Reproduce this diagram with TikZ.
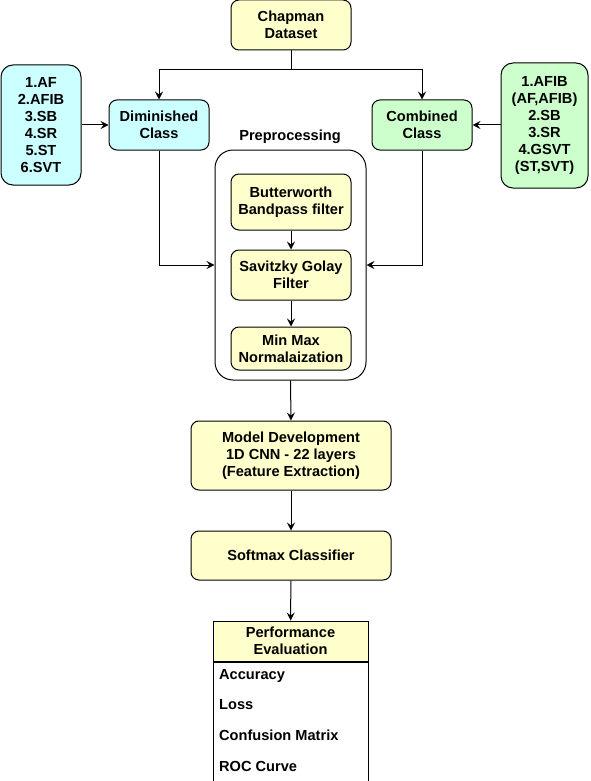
\documentclass[tikz,border=0pt]{standalone}
\usepackage{fontspec}
\setmainfont{Liberation Sans}
\usetikzlibrary{arrows.meta,positioning,calc}
\definecolor{yel}{HTML}{FFFFCC}
\definecolor{cya}{HTML}{CCFFFF}
\definecolor{grn}{HTML}{CCFFCC}
\begin{document}
\begin{tikzpicture}[x=1pt,y=-1pt,
  every node/.style={font=\fontsize{14.6}{17}\selectfont\bfseries, align=center, inner sep=0pt},
  box/.style={draw=black, line width=1pt, rounded corners=8pt, fill=yel},
  listbox/.style={draw=black, line width=1pt, rounded corners=12pt},
  cont/.style={draw=black, line width=1pt, rounded corners=18pt},
  conn/.style={draw=black, line width=1pt, -{Stealth[length=8pt,width=8pt,inset=3pt]}},
  item/.style={anchor=west, align=left}
]
\useasboundingbox (0,0) rectangle (591,781);

\node[box, minimum width=120pt, minimum height=50pt] (chap) at (291,25) {Chapman\\Dataset};
\node[box, fill=cya, minimum width=100pt, minimum height=50pt] (dim) at (159,125) {Diminished\\Class};
\node[box, fill=grn, minimum width=100pt, minimum height=50pt] (comb) at (422,125) {Combined\\Class};
\node[listbox, fill=cya, minimum width=80pt, minimum height=120pt] (llist) at (41,125) {1.AF\\2.AFIB\\3.SB\\4.SR\\5.ST\\6.SVT};
\node[listbox, fill=grn, minimum width=87pt, minimum height=125pt] (rlist) at (544.5,125.5) {1.AFIB\\(AF,AFIB)\\2.SB\\3.SR\\4.GSVT\\(ST,SVT)};

\node (plabel) at (290,137) {Preprocessing};
\node[cont, minimum width=151pt, minimum height=230pt] (cont) at (290.5,265) {};
\node[box, minimum width=120pt, minimum height=56pt] (butter) at (291,202) {Butterworth\\Bandpass filter};
\node[box, minimum width=120pt, minimum height=50pt] (savit) at (291,275) {Savitzky Golay\\Filter};
\node[box, minimum width=120pt, minimum height=43pt] (minmax) at (291,348.5) {Min Max\\Normalaization};

\node[box, minimum width=200pt, minimum height=69pt] (model) at (291,455.5) {Model Development\\1D CNN - 22 layers\\(Feature Extraction)};
\node[box, minimum width=200pt, minimum height=49pt] (soft) at (291,555.5) {Softmax Classifier};

\node[draw=black, line width=1pt, fill=yel, minimum width=155pt, minimum height=40pt] (perf) at (290.5,641) {Performance\\Evaluation};
\node[draw=black, line width=1pt, fill=white, minimum width=155pt, minimum height=119pt, anchor=north] (perfbody) at (perf.south) {};
\node[item] (acc) at (219,676) {Accuracy};
\node[item] (loss) at (219,705) {Loss};
\node[item] (conf) at (219,735) {Confusion Matrix};
\node[item] (roc) at (219,766) {ROC Curve};

\coordinate (split) at (291,70);
\draw[conn] (chap.south) -- (split) -| (dim.north);
\draw[conn] (split) -| (comb.north);
\draw[conn] (llist.east |- dim) -- (dim.west);
\draw[conn] (rlist.west |- comb) -- (comb.east);
\draw[conn] (dim.south) |- (cont.west);
\draw[conn] (comb.south) |- (cont.east);
\draw[conn] (butter) -- (savit);
\draw[conn] (savit) -- (minmax);
\draw[conn] (cont.south) -- (model.north);
\draw[conn] (model) -- (soft);
\draw[conn] (soft) -- (perf);
\end{tikzpicture}
\end{document}
